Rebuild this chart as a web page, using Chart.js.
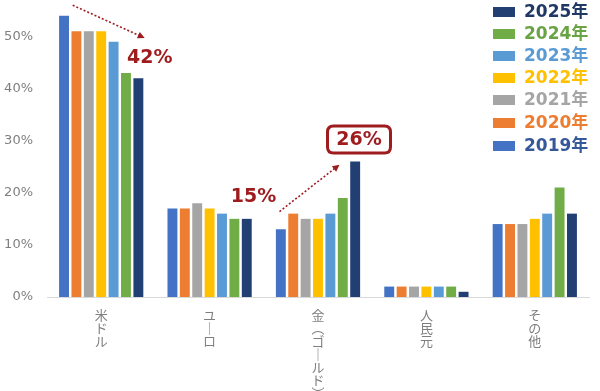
<!DOCTYPE html>
<html>
<head>
<meta charset="utf-8">
<script src="https://cdn.jsdelivr.net/npm/chart.js@4.4.1/dist/chart.umd.min.js"></script>
<style>
  html, body { margin: 0; padding: 0; background: #ffffff; }
  #wrap { width: 600px; height: 391px; position: relative; }
</style>
</head>
<body>
<div id="wrap"><canvas id="c" width="600" height="391"></canvas></div>
<script>
// ---- data ----
const categories = ['米ドル', 'ユーロ', '金（ゴールド）', '人民元', 'その他'];
const years = ['2019年', '2020年', '2021年', '2022年', '2023年', '2024年', '2025年'];
const v2019 = [54, 17, 13, 2, 14];
const v2020 = [51, 17, 16, 2, 14];
const v2021 = [51, 18, 15, 2, 14];
const v2022 = [51, 17, 15, 2, 15];
const v2023 = [49, 16, 16, 2, 16];
const v2024 = [43, 15, 19, 2, 21];
const v2025 = [42, 15, 26, 1, 16];
const yTicks = [0, 10, 20, 30, 40, 50];
const annotationTexts = ['42%', '15%', '26%'];

// ---- styles ----
const barColors = ['#4472C4', '#ED7D31', '#A5A5A5', '#FFC000', '#5B9BD5', '#70AD47', '#223F73'];
const legendTextColors = ['#35589A', '#ED7D31', '#A5A5A5', '#FFC000', '#5B9BD5', '#6AA343', '#1F3864'];
const darkRed = '#9E1B1E';
const seriesValues = [v2019, v2020, v2021, v2022, v2023, v2024, v2025];

function toVertical(s) {
  const map = { 'ー': '｜', '（': '︵', '）': '︶' };
  return Array.from(s).map(ch => map[ch] || ch);
}

const datasets = years.map((y, i) => ({
  label: y,
  data: seriesValues[i],
  backgroundColor: barColors[i],
  borderWidth: 0,
  categoryPercentage: 0.8,
  barPercentage: 0.8
}));

function drawArrow(ctx, x1, y1, x2, y2) {
  ctx.save();
  ctx.strokeStyle = darkRed;
  ctx.fillStyle = darkRed;
  ctx.lineWidth = 1.6;
  ctx.setLineDash([2, 2]);
  const ang = Math.atan2(y2 - y1, x2 - x1);
  const hl = 7;
  ctx.beginPath();
  ctx.moveTo(x1, y1);
  ctx.lineTo(x2 - Math.cos(ang) * hl * 0.8, y2 - Math.sin(ang) * hl * 0.8);
  ctx.stroke();
  ctx.setLineDash([]);
  ctx.beginPath();
  ctx.moveTo(x2, y2);
  ctx.lineTo(x2 - hl * Math.cos(ang) + 3.5 * Math.sin(ang), y2 - hl * Math.sin(ang) - 3.5 * Math.cos(ang));
  ctx.lineTo(x2 - hl * Math.cos(ang) - 3.5 * Math.sin(ang), y2 - hl * Math.sin(ang) + 3.5 * Math.cos(ang));
  ctx.closePath();
  ctx.fill();
  ctx.restore();
}

function roundRect(ctx, x, y, w, h, r) {
  ctx.beginPath();
  ctx.moveTo(x + r, y);
  ctx.lineTo(x + w - r, y);
  ctx.quadraticCurveTo(x + w, y, x + w, y + r);
  ctx.lineTo(x + w, y + h - r);
  ctx.quadraticCurveTo(x + w, y + h, x + w - r, y + h);
  ctx.lineTo(x + r, y + h);
  ctx.quadraticCurveTo(x, y + h, x, y + h - r);
  ctx.lineTo(x, y + r);
  ctx.quadraticCurveTo(x, y, x + r, y);
  ctx.closePath();
}

const overlayPlugin = {
  id: 'overlay',
  afterDatasetsDraw(chart) {
    const ctx = chart.ctx;
    const xs = chart.scales.x, ys = chart.scales.y;
    const cUsd = xs.getPixelForValue(0);
    const cGold = xs.getPixelForValue(2);

    // arrows
    drawArrow(ctx, cUsd - 28.5, ys.getPixelForValue(56), cUsd + 43.5, ys.getPixelForValue(49.7));
    drawArrow(ctx, cGold - 38.5, ys.getPixelForValue(16.4), cGold + 21.5, ys.getPixelForValue(25.4));

    ctx.save();
    ctx.font = 'bold 19px "DejaVu Sans", sans-serif';
    ctx.fillStyle = darkRed;
    ctx.textAlign = 'center';
    ctx.textBaseline = 'middle';
    ctx.fillText(annotationTexts[0], cUsd + 48.5, ys.getPixelForValue(45.8));
    ctx.fillText(annotationTexts[1], cGold - 64.5, ys.getPixelForValue(19.2));

    // boxed 26%
    const bx = cGold + 9.5, by = 126, bw = 63, bh = 27;
    ctx.lineWidth = 3;
    ctx.strokeStyle = darkRed;
    ctx.fillStyle = '#ffffff';
    roundRect(ctx, bx, by, bw, bh, 6);
    ctx.fill();
    ctx.stroke();
    ctx.fillStyle = darkRed;
    ctx.fillText(annotationTexts[2], bx + bw / 2, by + bh / 2 + 1);
    ctx.restore();

    // legend (reverse order, 2025 on top)
    ctx.save();
    ctx.font = 'bold 17px "DejaVu Sans", "Noto Sans CJK JP", sans-serif';
    ctx.textBaseline = 'middle';
    ctx.textAlign = 'left';
    const rowsY = [146, 123, 100, 78, 56, 34, 12];
    for (let i = 0; i < years.length; i++) {
      const yy = rowsY[i];
      ctx.fillStyle = barColors[i];
      ctx.fillRect(493, yy - 5, 22, 10);
      ctx.fillStyle = legendTextColors[i];
      ctx.fillText(years[i], 524, yy + 1);
    }
    ctx.restore();
  }
};

new Chart(document.getElementById('c'), {
  type: 'bar',
  data: { labels: categories.map(toVertical), datasets },
  options: {
    responsive: false,
    animation: false,
    devicePixelRatio: 1,
    layout: { padding: { top: 0, right: 11, left: 0, bottom: 0 } },
    plugins: { legend: { display: false }, tooltip: { enabled: false } },
    scales: {
      x: {
        grid: { display: false, drawTicks: false },
        border: { display: true, color: '#D9D9D9', width: 1 },
        ticks: {
          color: '#7F7F7F',
          padding: 12,
          maxRotation: 0,
          minRotation: 0,
          autoSkip: false,
          font: { family: '"Noto Sans CJK JP", sans-serif', size: 13, lineHeight: 1.0 }
        },
        afterFit(axis) { axis.height = 94; axis.paddingLeft = 0; axis.paddingRight = 0; }
      },
      y: {
        min: 0,
        max: 57,
        grid: { display: false, drawTicks: false },
        border: { display: false },
        afterBuildTicks(axis) { axis.ticks = yTicks.map(v => ({ value: v })); },
        ticks: {
          color: '#7F7F7F',
          padding: 14,
          font: { family: '"DejaVu Sans", sans-serif', size: 13 },
          callback: v => v + '%'
        },
        afterFit(axis) { axis.width = 47; axis.paddingTop = 0; axis.paddingBottom = 0; }
      }
    }
  },
  plugins: [overlayPlugin]
});
</script>
</body>
</html>
